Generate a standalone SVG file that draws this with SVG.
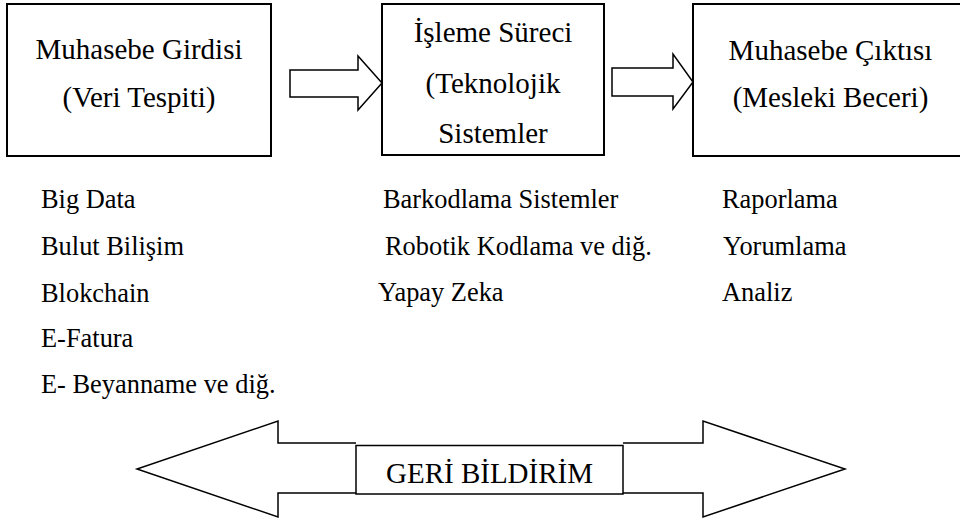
<svg xmlns="http://www.w3.org/2000/svg" width="960" height="520" viewBox="0 0 960 520">
<style>
.box{fill:#fff;stroke:#000;stroke-width:2}
.arr{fill:#fff;stroke:#000;stroke-width:1.5;stroke-linejoin:miter}
text{font-family:'Liberation Serif','DejaVu Serif',serif;fill:#000}
.bt{font-size:29px;text-anchor:middle}
.lt{font-size:26.4px}
</style>
<rect width="960" height="520" fill="#fff"/>
<g id="connectors">
<polygon class="arr" points="290,70 358,70 358,56 382,83 358,110 358,97 290,97"/>
<polygon class="arr" points="612,68 673,68 673,54 693,82 673,109 673,96 612,96"/>
</g>
<g id="node-input">
<rect class="box" x="7" y="4" width="264" height="152"/>
<text class="bt" x="139" y="59" font-family="Liberation Serif, DejaVu Serif, serif">Muhasebe Girdisi</text>
<text class="bt" x="139" y="107" font-family="Liberation Serif, DejaVu Serif, serif">(Veri Tespiti)</text>
</g>
<g id="node-process">
<rect class="box" x="382" y="4" width="222" height="151"/>
<text class="bt" x="493" y="42" font-family="Liberation Serif, DejaVu Serif, serif">İşleme Süreci</text>
<text class="bt" x="493" y="93" font-family="Liberation Serif, DejaVu Serif, serif">(Teknolojik</text>
<text class="bt" x="493" y="143" font-family="Liberation Serif, DejaVu Serif, serif">Sistemler</text>
</g>
<g id="node-output">
<rect class="box" x="693" y="4" width="275" height="152"/>
<text class="bt" x="830.5" y="60" font-family="Liberation Serif, DejaVu Serif, serif">Muhasebe Çıktısı</text>
<text class="bt" x="830.5" y="107" font-family="Liberation Serif, DejaVu Serif, serif">(Mesleki Beceri)</text>
</g>
<g id="list-input" class="lt" font-family="Liberation Serif, DejaVu Serif, serif">
<text x="41" y="208">Big Data</text>
<text x="41" y="255">Bulut Bilişim</text>
<text x="41" y="301.5">Blokchain</text>
<text x="41" y="347">E-Fatura</text>
<text x="41" y="393">E- Beyanname ve diğ.</text>
</g>
<g id="list-process" class="lt" font-family="Liberation Serif, DejaVu Serif, serif">
<text x="383" y="208">Barkodlama Sistemler</text>
<text x="385" y="254.5">Robotik Kodlama ve diğ.</text>
<text x="378" y="301">Yapay Zeka</text>
</g>
<g id="list-output" class="lt" font-family="Liberation Serif, DejaVu Serif, serif">
<text x="722" y="208">Raporlama</text>
<text x="723" y="254.5">Yorumlama</text>
<text x="722" y="301">Analiz</text>
</g>
<g id="node-feedback">
<path class="arr" d="M356,443 L278,443 L278,421 L137,469 L278,517 L278,493 L356,493"/>
<path class="arr" d="M623,443 L703,443 L703,421 L845,469 L703,517 L703,493 L623,493"/>
<rect x="356" y="445.5" width="267" height="48.5" fill="#fff" stroke="#000" stroke-width="1.5"/>
<text class="bt" x="489.5" y="483" font-family="Liberation Serif, DejaVu Serif, serif">GERİ BİLDİRİM</text>
</g>
</svg>
